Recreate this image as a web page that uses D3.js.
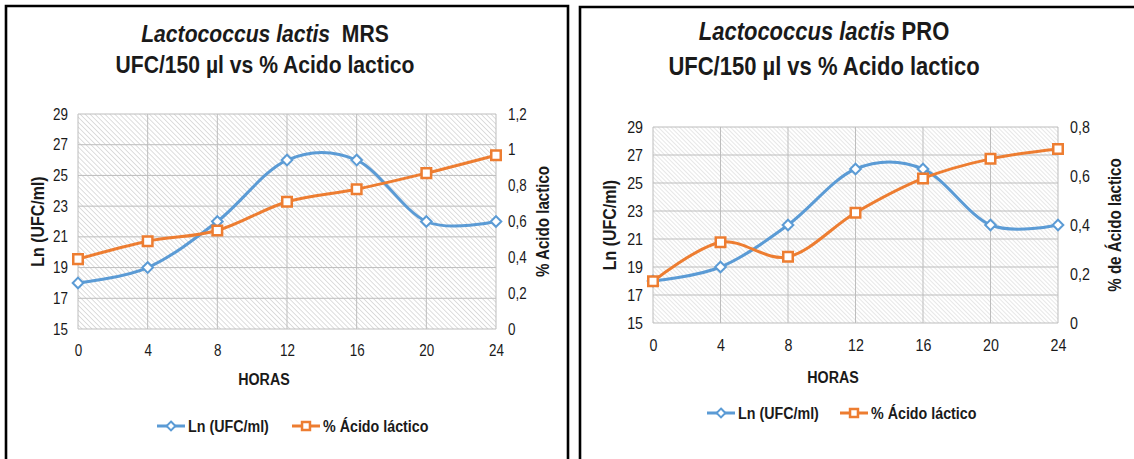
<!DOCTYPE html>
<html>
<head>
<meta charset="utf-8">
<script src="https://cdn.jsdelivr.net/npm/d3@7"></script>
<style>
	body { margin: 0; background: #fff; }
	svg { display: block; font-family: "Liberation Sans Narrow", "Arial Narrow", "Liberation Sans", Arial, sans-serif; }
	text { fill: #1a1a1a; }
	/* no narrow face installed, so squeeze the regular one */
	.narrow { transform: scaleX(0.84); transform-box: fill-box; transform-origin: center; }
	.narrow-l { transform: scaleX(0.84); transform-box: fill-box; transform-origin: left center; }
	.narrow-r { transform: scaleX(0.84); transform-box: fill-box; transform-origin: right center; }
	.title { transform: scaleX(0.88); transform-box: fill-box; transform-origin: center; }
</style>
</head>
<body>
<svg id="chart" width="1134" height="459"></svg>
<script>
// hours on the x axis
const hours = [0, 4, 8, 12, 16, 20, 24]
const lnTicks = [15, 17, 19, 21, 23, 25, 27, 29]

// MRS panel
const lnMRS = [18, 19, 22, 26, 26, 22, 22]
const acidMRS = [0.39, 0.49, 0.55, 0.71, 0.78, 0.87, 0.97]
const acidTicksMRS = [0, 0.2, 0.4, 0.6, 0.8, 1, 1.2]

// PRO panel
const lnPRO = [18, 19, 22, 26, 26, 22, 22]
const acidPRO = [0.17, 0.33, 0.27, 0.45, 0.59, 0.67, 0.71]
const acidTicksPRO = [0, 0.2, 0.4, 0.6, 0.8]

const blue = '#5b9bd5', orange = '#ed7d31'
const fmt = v => String(v).replace('.', ',')

const $svg = d3.select('#chart')

// hatched plot background
const $defs = $svg.append('defs')
function hatch(id, color, gap) {
	const $p = $defs.append('pattern')
		.attr('id', id)
		.attr('patternUnits', 'userSpaceOnUse')
		.attr('width', gap).attr('height', gap)
		.attr('patternTransform', 'rotate(-45)')
	$p.append('rect').attr('width', gap).attr('height', gap).attr('fill', '#fff')
	$p.append('line')
		.attr('x1', 0).attr('y1', 0).attr('x2', 0).attr('y2', gap)
		.attr('stroke', color).attr('stroke-width', 1.2)
}
hatch('hatchA', '#c8c8c8', 3.5)
hatch('hatchB', '#d8d8d8', 3)

function panel(opt) {
	const $g = $svg.append('g')
	const x = d3.scaleLinear().domain([0, 24]).range([opt.x0, opt.x1])
	const yL = d3.scaleLinear().domain([15, 29]).range([opt.y1, opt.y0])
	const yR = d3.scaleLinear().domain([0, d3.max(opt.rTicks)]).range([opt.y1, opt.y0])

	// frame
	$g.append('path')
		.attr('d', opt.frame)
		.attr('fill', 'none')
		.attr('stroke', '#000')
		.attr('stroke-width', 2.6)

	$g.append('rect')
		.attr('x', opt.x0).attr('y', opt.y0)
		.attr('width', opt.x1 - opt.x0).attr('height', opt.y1 - opt.y0)
		.attr('fill', `url(#${opt.hatch})`)

	// grid
	$g.append('g')
		.selectAll('line')
		.data(lnTicks)
		.join('line')
		.attr('x1', opt.x0).attr('x2', opt.x1)
		.attr('y1', d => yL(d)).attr('y2', d => yL(d))
		.attr('stroke', '#bdbdbd').attr('stroke-width', 1)
	$g.append('g')
		.selectAll('line')
		.data(hours)
		.join('line')
		.attr('x1', d => x(d)).attr('x2', d => x(d))
		.attr('y1', opt.y0).attr('y2', opt.y1)
		.attr('stroke', '#bdbdbd').attr('stroke-width', 1)

	// axes
	const fs = opt.tickSize
	$g.append('g')
		.attr('transform', `translate(${opt.x0 - 6}, 0)`)
		.call(d3.axisLeft(yL).tickValues(lnTicks).tickSize(0).tickPadding(4))
		.call(a => a.select('.domain').remove())
		.selectAll('text').attr('class', 'narrow-r').style('font-size', fs + 'px')
	$g.append('g')
		.attr('transform', `translate(${opt.x1 + 8}, 0)`)
		.call(d3.axisRight(yR).tickValues(opt.rTicks).tickFormat(fmt).tickSize(0).tickPadding(4))
		.call(a => a.select('.domain').remove())
		.selectAll('text').attr('class', 'narrow-l').style('font-size', fs + 'px')
	$g.append('g')
		.attr('transform', `translate(0, ${opt.y1 + 12})`)
		.call(d3.axisBottom(x).tickValues(hours).tickSize(0).tickPadding(4))
		.call(a => a.select('.domain').remove())
		.selectAll('text').attr('class', 'narrow').style('font-size', fs + 'px')

	// titles
	const $t = $g.append('text')
		.attr('class', 'title')
		.attr('x', opt.titleX).attr('y', opt.titleY)
		.attr('text-anchor', 'middle')
		.style('font-size', opt.titleSize + 'px')
		.style('font-weight', 'bold')
	$t.append('tspan').style('font-style', 'italic').text('Lactococcus lactis')
	$t.append('tspan').text(opt.gap + opt.name)
	$g.append('text')
		.attr('class', 'title')
		.attr('x', opt.titleX).attr('y', opt.titleY + opt.titleGap)
		.attr('text-anchor', 'middle')
		.style('font-size', opt.titleSize + 'px')
		.style('font-weight', 'bold')
		.text(opt.subtitle)

	$g.append('g')
		.attr('transform', `translate(${opt.lTitleX}, ${(opt.y0 + opt.y1) / 2}) rotate(-90)`)
		.append('text')
		.attr('class', 'narrow')
		.attr('text-anchor', 'middle')
		.style('font-size', '19px').style('font-weight', 'bold')
		.text('Ln (UFC/ml)')
	$g.append('g')
		.attr('transform', `translate(${opt.rTitleX}, ${(opt.y0 + opt.y1) / 2}) rotate(-90)`)
		.append('text')
		.attr('class', 'narrow')
		.attr('text-anchor', 'middle')
		.style('font-size', '18px').style('font-weight', 'bold')
		.text(opt.rTitle)
	$g.append('text')
		.attr('class', 'narrow')
		.attr('x', opt.horasX).attr('y', opt.horasY)
		.attr('text-anchor', 'middle')
		.style('font-size', '17px').style('font-weight', 'bold')
		.text('HORAS')

	// series
	const curve = d3.curveCatmullRom.alpha(0)
	const lnLine = d3.line().x((d, i) => x(hours[i])).y(d => yL(d)).curve(curve)
	const acLine = d3.line().x((d, i) => x(hours[i])).y(d => yR(d)).curve(curve)

	$g.append('path').datum(opt.ln)
		.attr('d', lnLine)
		.attr('fill', 'none').attr('stroke', blue).attr('stroke-width', 3)
	$g.append('path').datum(opt.acid)
		.attr('d', acLine)
		.attr('fill', 'none').attr('stroke', orange).attr('stroke-width', 3)

	const diamond = d3.symbol().type(d3.symbolDiamond2).size(72)
	const square = d3.symbol().type(d3.symbolSquare2).size(115)

	$g.append('g').selectAll('path')
		.data(opt.ln)
		.join('path')
		.attr('d', diamond)
		.attr('transform', (d, i) => `translate(${x(hours[i])}, ${yL(d)})`)
		.attr('fill', '#fff').attr('stroke', blue).attr('stroke-width', 2)
	$g.append('g').selectAll('path')
		.data(opt.acid)
		.join('path')
		.attr('d', square)
		.attr('transform', (d, i) => `translate(${x(hours[i])}, ${yR(d)})`)
		.attr('fill', '#fff').attr('stroke', orange).attr('stroke-width', 2.5)

	// legend
	const items = [
		{label: 'Ln (UFC/ml)', color: blue, sw: 2, x: opt.legX[0],
			sym: d3.symbol().type(d3.symbolDiamond2).size(50)},
		{label: '% Ácido láctico', color: orange, sw: 2.5, x: opt.legX[1],
			sym: d3.symbol().type(d3.symbolSquare2).size(80)}
	]
	const $leg = $g.append('g').selectAll('g')
		.data(items)
		.join('g')
		.attr('transform', d => `translate(${d.x}, ${opt.legY})`)
	$leg.append('line')
		.attr('x1', 0).attr('x2', 28)
		.attr('stroke', d => d.color).attr('stroke-width', 3)
	$leg.append('path')
		.attr('d', d => d.sym())
		.attr('transform', 'translate(14, 0)')
		.attr('fill', '#fff').attr('stroke', d => d.color).attr('stroke-width', d => d.sw)
	$leg.append('text')
		.attr('class', 'narrow-l')
		.attr('x', 31).attr('y', 6)
		.style('font-size', '17px').style('font-weight', 'bold')
		.text(d => d.label)
}

panel({
	name: 'MRS', subtitle: 'UFC/150 \u00b5l  vs % Acido lactico', gap: '\u00a0 ',
	x0: 78, x1: 496, y0: 114, y1: 329,
	frame: 'M6,459 V6 H568 V459',
	hatch: 'hatchA',
	ln: lnMRS, acid: acidMRS, rTicks: acidTicksMRS,
	tickSize: 16,
	titleX: 265, titleY: 42, titleGap: 31, titleSize: 24,
	lTitleX: 44, rTitleX: 549, rTitle: '% Acido lactico',
	horasX: 264, horasY: 385,
	legX: [157, 292], legY: 426
})

panel({
	name: 'PRO', subtitle: 'UFC/150 \u00b5l vs % Acido lactico', gap: ' ',
	x0: 653, x1: 1058, y0: 127, y1: 323,
	frame: 'M580,459 V7 H1140',
	hatch: 'hatchB',
	ln: lnPRO, acid: acidPRO, rTicks: acidTicksPRO,
	tickSize: 17,
	titleX: 824, titleY: 40, titleGap: 35, titleSize: 25,
	lTitleX: 616, rTitleX: 1121, rTitle: '% de Ácido lactico',
	horasX: 833, horasY: 383,
	legX: [707, 840], legY: 413
})
</script>
</body>
</html>
